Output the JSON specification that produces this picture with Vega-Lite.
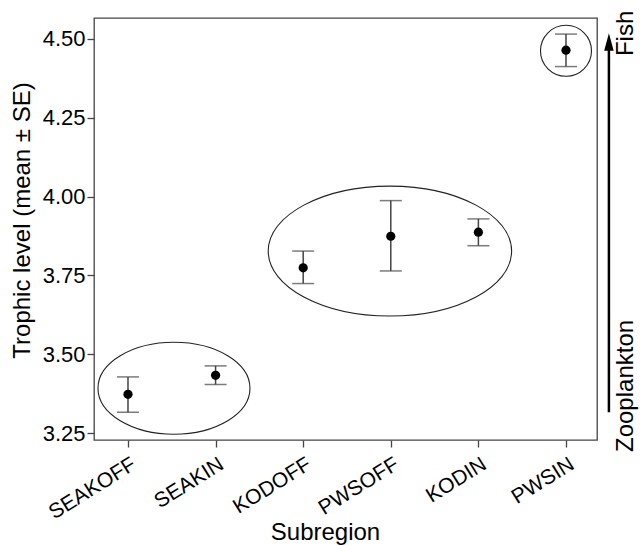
{
  "$schema": "https://vega.github.io/schema/vega-lite/v6.json",
  "width": 503,
  "height": 422,
  "autosize": {"type": "none"},
  "padding": {"left": 94, "top": 18, "right": 43, "bottom": 105},
  "background": "white",
  "config": {
    "font": "Liberation Sans",
    "view": {"stroke": "#444", "strokeWidth": 1.3},
    "axis": {
      "grid": false,
      "domain": false,
      "tickColor": "#444",
      "tickWidth": 1.3,
      "tickSize": 7,
      "labelFont": "Liberation Sans",
      "labelFontSize": 22,
      "labelColor": "black",
      "titleFont": "Liberation Sans",
      "titleFontSize": 24,
      "titleFontWeight": "normal",
      "titleColor": "black"
    }
  },
  "datasets": {
    "means": [
      {"subregion": "SEAKOFF", "order": 1, "mean": 3.373, "lower": 3.316, "upper": 3.428},
      {"subregion": "SEAKIN", "order": 2, "mean": 3.433, "lower": 3.404, "upper": 3.463},
      {"subregion": "KODOFF", "order": 3, "mean": 3.774, "lower": 3.724, "upper": 3.827},
      {"subregion": "PWSOFF", "order": 4, "mean": 3.874, "lower": 3.764, "upper": 3.987},
      {"subregion": "KODIN", "order": 5, "mean": 3.887, "lower": 3.844, "upper": 3.929},
      {"subregion": "PWSIN", "order": 6, "mean": 4.464, "lower": 4.412, "upper": 4.515}
    ],
    "groups": [
      {"group": "SEAK", "cx": 1.525, "cy": 3.392},
      {"group": "MID", "cx": 3.99, "cy": 3.827},
      {"group": "PWSIN", "cx": 6.0, "cy": 4.462}
    ],
    "arrow": [
      {"x": 6.49, "bottom": 3.316, "top": 4.49, "tip": 4.49}
    ],
    "labels": [
      {"label": "Fish", "x": 6.69, "y": 4.589, "end": "top"},
      {"label": "Zooplankton", "x": 6.69, "y": 3.19, "end": "bottom"}
    ]
  },
  "encoding": {
    "x": {
      "type": "quantitative",
      "scale": {"domain": [0.612, 6.354], "nice": false, "zero": false}
    }
  },
  "layer": [
    {
      "data": {"name": "groups"},
      "transform": [{"filter": "datum.group === 'SEAK'"}],
      "mark": {
        "type": "point",
        "shape": "M -1 0 C -1 -0.3341 -0.5523 -0.605 0 -0.605 C 0.5523 -0.605 1 -0.3341 1 0 C 1 0.3341 0.5523 0.605 0 0.605 C -0.5523 0.605 -1 0.3341 -1 0 Z",
        "size": 23104,
        "filled": false,
        "stroke": "#222",
        "strokeWidth": 1.1,
        "opacity": 1
      },
      "encoding": {
        "x": {"field": "cx", "type": "quantitative"},
        "y": {"field": "cy", "type": "quantitative"}
      }
    },
    {
      "data": {"name": "groups"},
      "transform": [{"filter": "datum.group === 'MID'"}],
      "mark": {
        "type": "point",
        "shape": "M -1 0 C -1 -0.2949 -0.5523 -0.534 0 -0.534 C 0.5523 -0.534 1 -0.2949 1 0 C 1 0.2949 0.5523 0.534 0 0.534 C -0.5523 0.534 -1 0.2949 -1 0 Z",
        "size": 59244,
        "filled": false,
        "stroke": "#222",
        "strokeWidth": 1.1,
        "opacity": 1
      },
      "encoding": {
        "x": {"field": "cx", "type": "quantitative"},
        "y": {"field": "cy", "type": "quantitative"}
      }
    },
    {
      "data": {"name": "groups"},
      "transform": [{"filter": "datum.group === 'PWSIN'"}],
      "mark": {
        "type": "point",
        "shape": "circle",
        "size": 2601,
        "filled": false,
        "stroke": "#222",
        "strokeWidth": 1.1,
        "opacity": 1
      },
      "encoding": {
        "x": {"field": "cx", "type": "quantitative"},
        "y": {"field": "cy", "type": "quantitative"}
      }
    },
    {
      "data": {"name": "means"},
      "mark": {"type": "rule", "color": "#444", "strokeWidth": 1.5},
      "encoding": {
        "x": {
          "field": "order",
          "type": "quantitative",
          "title": "Subregion",
          "axis": {
            "values": [1, 2, 3, 4, 5, 6],
            "labelExpr": "['SEAKOFF','SEAKIN','KODOFF','PWSOFF','KODIN','PWSIN'][datum.value - 1]",
            "labelAngle": -32,
            "labelAlign": "right",
            "labelBaseline": "top",
            "labelPadding": 6,
            "labelFontSize": 21,
            "titleX": 231,
            "titleY": 99,
            "titleAlign": "center",
            "titleBaseline": "alphabetic"
          }
        },
        "y": {
          "field": "lower",
          "type": "quantitative",
          "title": "Trophic level (mean ± SE)",
          "scale": {"domain": [3.228, 4.566], "nice": false, "zero": false},
          "axis": {
            "values": [3.25, 3.5, 3.75, 4.0, 4.25, 4.5],
            "format": ".2f",
            "labelPadding": 2,
            "titleX": -65,
            "titleY": 202,
            "titleAngle": 270,
            "titleAlign": "center",
            "titleBaseline": "alphabetic"
          }
        },
        "y2": {"field": "upper"}
      }
    },
    {
      "data": {"name": "means"},
      "mark": {"type": "tick", "orient": "horizontal", "color": "#444", "size": 22, "thickness": 1.5},
      "encoding": {
        "x": {"field": "order", "type": "quantitative"},
        "y": {"field": "lower", "type": "quantitative"}
      }
    },
    {
      "data": {"name": "means"},
      "mark": {"type": "tick", "orient": "horizontal", "color": "#444", "size": 22, "thickness": 1.5},
      "encoding": {
        "x": {"field": "order", "type": "quantitative"},
        "y": {"field": "upper", "type": "quantitative"}
      }
    },
    {
      "data": {"name": "means"},
      "mark": {"type": "point", "shape": "circle", "filled": true, "color": "black", "size": 85, "opacity": 1},
      "encoding": {
        "x": {"field": "order", "type": "quantitative"},
        "y": {"field": "mean", "type": "quantitative"}
      }
    },
    {
      "data": {"name": "arrow"},
      "mark": {"type": "rule", "color": "black", "strokeWidth": 2.5, "clip": false},
      "encoding": {
        "x": {"field": "x", "type": "quantitative"},
        "y": {"field": "bottom", "type": "quantitative"},
        "y2": {"field": "top"}
      }
    },
    {
      "data": {"name": "arrow"},
      "mark": {"type": "point", "shape": "M 0 -1 L 0.55 1 L -0.55 1 Z", "size": 300, "filled": true, "color": "black", "opacity": 1, "clip": false},
      "encoding": {
        "x": {"field": "x", "type": "quantitative"},
        "y": {"field": "tip", "type": "quantitative"}
      }
    },
    {
      "data": {"name": "labels"},
      "transform": [{"filter": "datum.end === 'top'"}],
      "mark": {"type": "text", "angle": 270, "align": "right", "baseline": "middle", "fontSize": 24, "color": "black", "font": "Liberation Sans"},
      "encoding": {
        "x": {"field": "x", "type": "quantitative"},
        "y": {"field": "y", "type": "quantitative"},
        "text": {"field": "label"}
      }
    },
    {
      "data": {"name": "labels"},
      "transform": [{"filter": "datum.end === 'bottom'"}],
      "mark": {"type": "text", "angle": 270, "align": "left", "baseline": "middle", "fontSize": 24, "color": "black", "font": "Liberation Sans"},
      "encoding": {
        "x": {"field": "x", "type": "quantitative"},
        "y": {"field": "y", "type": "quantitative"},
        "text": {"field": "label"}
      }
    }
  ]
}
